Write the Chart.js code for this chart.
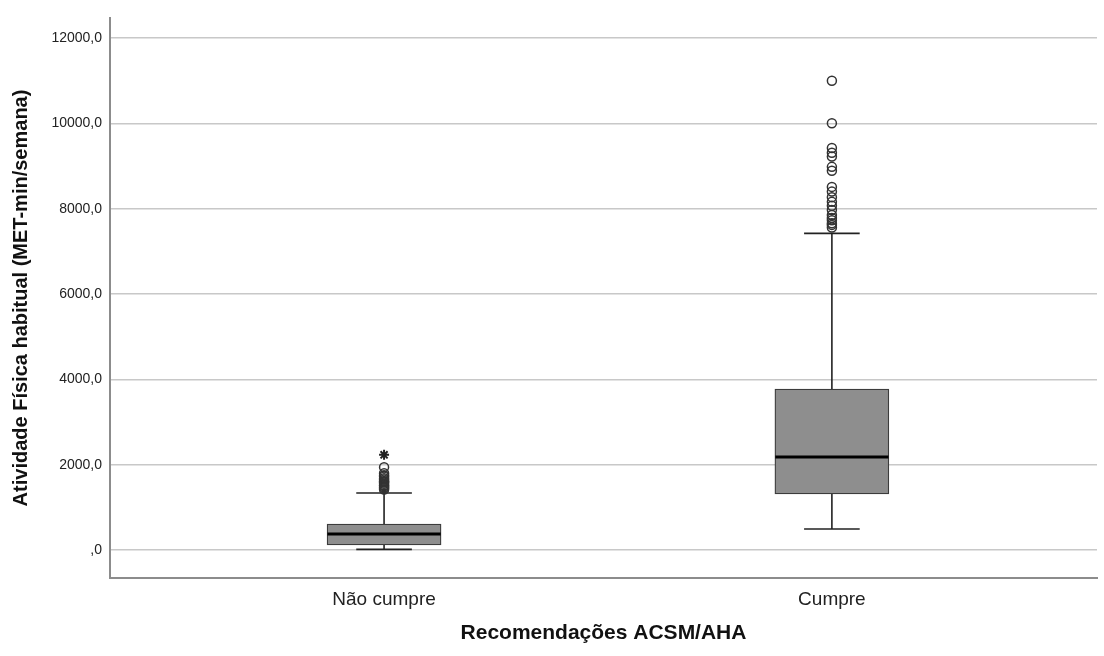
<!DOCTYPE html>
<html>
<head>
<meta charset="utf-8">
<script src="https://cdn.jsdelivr.net/npm/chart.js@4.4.1/dist/chart.umd.min.js"></script>
<style>
  html, body { margin: 0; padding: 0; background: #fff; overflow: hidden; }
  canvas { display: block; }
</style>
</head>
<body>
<canvas id="chart" width="1104" height="656"></canvas>
<script>
// box plot values (MET-min/semana)
const categories = ['Não cumpre', 'Cumpre'];
const whiskerLow = [15, 492];
const q1 = [117, 1312];
const median = [375, 2180];
const q3 = [609, 3773];
const whiskerHigh = [1336, 7422];
const outliersNao = [1940, 1800, 1750, 1720, 1680, 1650, 1620, 1600, 1580, 1550, 1520, 1500, 1470, 1450, 1420];
const extremesNao = [2230];
const outliersCumpre = [11000, 10000, 9420, 9310, 9220, 8980, 8890, 8510, 8400, 8270, 8160, 8070, 7970, 7850, 7780, 7730, 7660, 7620, 7560];
const extremesCumpre = [];
const yTicks = [0, 2000, 4000, 6000, 8000, 10000, 12000];

const outliers = [outliersNao, outliersCumpre];
const extremes = [extremesNao, extremesCumpre];

const BOX_HALF = 0.1264;   // half box width, in category units
const CAP_HALF = 0.0621;   // half whisker cap width

const lineDs = (pts, color, width, order) => ({
  type: 'line',
  data: pts,
  borderColor: color,
  borderWidth: width,
  pointRadius: 0,
  fill: false,
  order: order
});

const datasets = [];

// boxes (floating bars q1..q3)
datasets.push({
  type: 'bar',
  data: categories.map((c, i) => ({ x: i + 1, y: [q1[i], q3[i]] })),
  backgroundColor: '#8e8e8e',
  borderColor: '#3c3c3c',
  borderWidth: 1.3,
  borderSkipped: false,
  barThickness: 114,
  order: 10
});

categories.forEach((c, i) => {
  const x = i + 1;
  // whiskers
  datasets.push(lineDs([{ x: x, y: q3[i] }, { x: x, y: whiskerHigh[i] }], '#222', 1.6, 5));
  datasets.push(lineDs([{ x: x, y: q1[i] }, { x: x, y: whiskerLow[i] }], '#222', 1.6, 5));
  // caps
  datasets.push(lineDs([{ x: x - CAP_HALF, y: whiskerHigh[i] }, { x: x + CAP_HALF, y: whiskerHigh[i] }], '#222', 1.6, 5));
  datasets.push(lineDs([{ x: x - CAP_HALF, y: whiskerLow[i] }, { x: x + CAP_HALF, y: whiskerLow[i] }], '#222', 1.6, 5));
  // median
  datasets.push(lineDs([{ x: x - BOX_HALF, y: median[i] }, { x: x + BOX_HALF, y: median[i] }], '#000', 3, 0));
  // outliers
  datasets.push({
    type: 'scatter',
    data: outliers[i].map(v => ({ x: x, y: v })),
    pointStyle: 'circle',
    pointRadius: 4.5,
    borderColor: '#333',
    backgroundColor: 'rgba(255,255,255,0)',
    borderWidth: 1.5,
    order: 2
  });
  datasets.push({
    type: 'scatter',
    data: extremes[i].map(v => ({ x: x, y: v })),
    pointStyle: 'star',
    pointRadius: 5,
    borderColor: '#222',
    borderWidth: 2,
    order: 2
  });
});

new Chart(document.getElementById('chart'), {
  type: 'scatter',
  data: { datasets: datasets },
  options: {
    responsive: false,
    animation: false,
    layout: { padding: { top: 18, right: 0, left: 0, bottom: 0 } },
    plugins: { legend: { display: false }, tooltip: { enabled: false } },
    scales: {
      x: {
        type: 'linear',
        min: 0.388,
        max: 2.592,
        offset: false,
        afterBuildTicks: s => { s.ticks = categories.map((c, i) => ({ value: i + 1 })); },
        afterFit: s => { s.height = 78; },
        ticks: {
          callback: v => categories[v - 1] || '',
          color: '#222',
          font: { family: 'Liberation Sans, Arial, sans-serif', size: 19 },
          padding: 10,
          autoSkip: false,
          maxRotation: 0
        },
        grid: { display: true, color: 'rgba(0,0,0,0)', drawTicks: false },
        border: { display: true, color: '#8c8c8c', width: 2 },
        title: {
          display: true,
          text: 'Recomendações ACSM/AHA',
          color: '#111',
          font: { family: 'Liberation Sans, Arial, sans-serif', size: 21, weight: 'bold' },
          padding: { top: 0, bottom: 10 }
        }
      },
      y: {
        type: 'linear',
        min: -656.25,
        max: 12468.75,
        beginAtZero: false,
        afterBuildTicks: s => { s.ticks = yTicks.map(v => ({ value: v })); },
        afterFit: s => { s.width = 110; },
        ticks: {
          callback: v => (v === 0 ? ',0' : v + ',0'),
          color: '#222',
          font: { family: 'Liberation Sans, Arial, sans-serif', size: 14 },
          padding: 8
        },
        grid: { color: '#c8c8c8', lineWidth: 1.5, drawTicks: false },
        border: { display: true, color: '#8c8c8c', width: 2 },
        title: {
          display: true,
          text: 'Atividade Física habitual (MET-min/semana)',
          color: '#111',
          font: { family: 'Liberation Sans, Arial, sans-serif', size: 20, weight: 'bold' },
          padding: { top: 9, bottom: 0 }
        }
      }
    }
  }
});
</script>
</body>
</html>
